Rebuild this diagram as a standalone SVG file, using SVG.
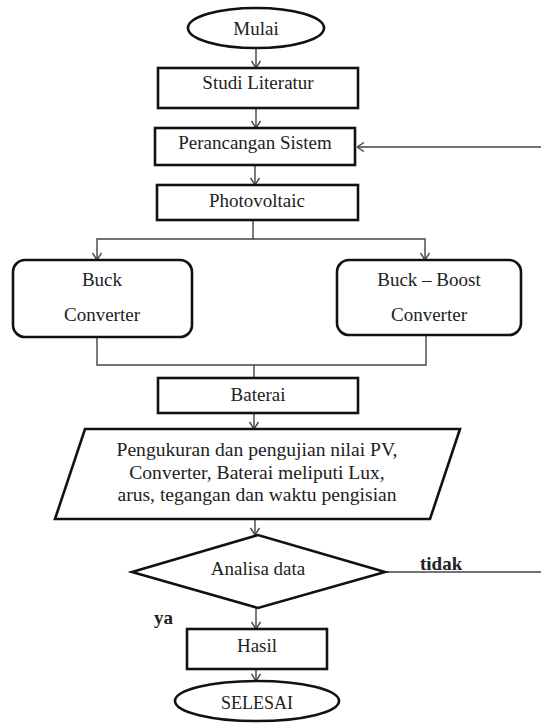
<svg xmlns="http://www.w3.org/2000/svg" width="541" height="723" viewBox="0 0 541 723">
<style>
.n{fill:#fff;stroke:#111;stroke-width:2.6}
.c{fill:none;stroke:#444;stroke-width:1.4}
text{font-family:"Liberation Serif","Times New Roman",serif;font-size:19px;fill:#222;text-anchor:middle}
.b{font-weight:bold;text-anchor:start}
.p{font-size:19.6px}
</style>
<defs>
<marker id="ah" viewBox="0 0 10 10" refX="10" refY="5" markerWidth="10" markerHeight="10" markerUnits="userSpaceOnUse" orient="auto">
<path d="M3,0.5 L10,5 L3,9.5" fill="none" stroke="#444" stroke-width="1.4"/>
</marker>
</defs>
<rect width="541" height="723" fill="#fff"/>
<g id="connectors">
<path class="c" d="M256,48 V68" marker-end="url(#ah)"/>
<path class="c" d="M256,108 V128" marker-end="url(#ah)"/>
<path class="c" d="M255,165 V185" marker-end="url(#ah)"/>
<path class="c" d="M253,220 V239 H97 V260" marker-end="url(#ah)"/>
<path class="c" d="M253,239 H425 V260" marker-end="url(#ah)"/>
<path class="c" d="M97,337 V365 H426 V334"/>
<path class="c" d="M254,365 V378"/>
<path class="c" d="M254,413 V429" marker-end="url(#ah)"/>
<path class="c" d="M255,519 V535" marker-end="url(#ah)"/>
<path class="c" d="M385,572 H545 V147 H357" marker-end="url(#ah)"/>
<path class="c" d="M256,608 V629" marker-end="url(#ah)"/>
<path class="c" d="M256,669 V681" marker-end="url(#ah)"/>
<text class="b" x="420" y="570">tidak</text>
<text class="b" x="154" y="624">ya</text>
</g>
<g id="mulai">
<ellipse class="n" cx="256" cy="28" rx="68" ry="20"/>
<text x="256" y="35">Mulai</text>
</g>
<g id="studi">
<rect class="n" x="158" y="68" width="200" height="40"/>
<text x="258" y="89">Studi Literatur</text>
</g>
<g id="perancangan">
<rect class="n" x="155" y="128" width="200" height="37"/>
<text x="255" y="149">Perancangan Sistem</text>
</g>
<g id="photovoltaic">
<rect class="n" x="157" y="185" width="201" height="35"/>
<text x="257" y="207">Photovoltaic</text>
</g>
<g id="buck">
<rect class="n" x="13" y="260" width="179" height="77" rx="12"/>
<text x="102" y="286">Buck</text>
<text x="102" y="321">Converter</text>
</g>
<g id="buckboost">
<rect class="n" x="337" y="260" width="184" height="75" rx="12"/>
<text x="429" y="286">Buck – Boost</text>
<text x="429" y="321">Converter</text>
</g>
<g id="baterai">
<rect class="n" x="158" y="378" width="200" height="35"/>
<text x="258" y="401">Baterai</text>
</g>
<g id="pengukuran">
<polygon class="n" points="85,429 460,429 430,519 55,519"/>
<text class="p" x="257" y="456">Pengukuran dan pengujian nilai PV,</text>
<text class="p" x="257" y="479">Converter, Baterai meliputi Lux,</text>
<text class="p" x="257" y="501">arus, tegangan dan waktu pengisian</text>
</g>
<g id="analisa">
<polygon class="n" points="132,572 258,535 385,572 258,608"/>
<text x="258" y="575">Analisa data</text>
</g>
<g id="hasil">
<rect class="n" x="187" y="629" width="140" height="40"/>
<text x="257" y="652">Hasil</text>
</g>
<g id="selesai">
<ellipse class="n" cx="257" cy="701" rx="82" ry="20"/>
<text x="257" y="709" style="font-size:18px">SELESAI</text>
</g>
</svg>
